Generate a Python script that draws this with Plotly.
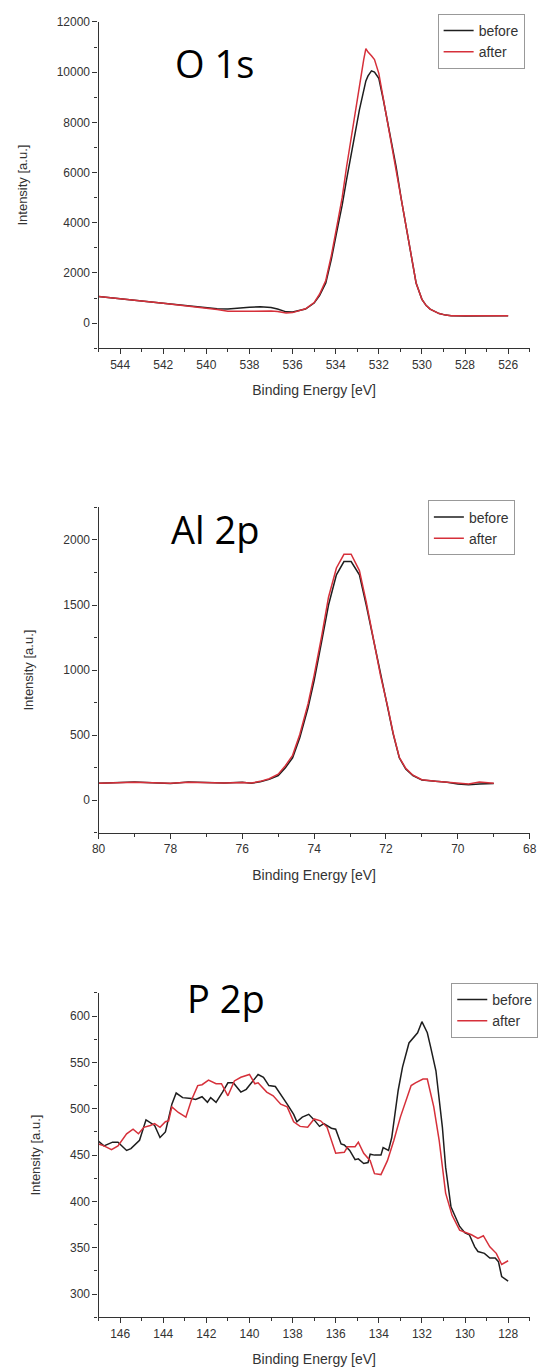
import plotly.graph_objects as go

# ---------------- data ----------------
o1s_be = [545.0, 544.0, 543.0, 542.0, 541.0, 540.0, 539.5, 539.0, 538.5, 538.0, 537.5, 537.0,
          536.7, 536.3, 536.0, 535.6, 535.4, 535.0, 534.75, 534.46, 534.2, 533.96, 533.7, 533.5,
          533.3, 533.1, 532.9, 532.7, 532.6, 532.5, 532.34, 532.2, 532.0, 531.79, 531.5, 531.2,
          530.95, 530.68, 530.45, 530.27, 530.0, 529.8, 529.62, 529.4, 529.2, 528.9, 528.64, 528.0,
          527.5, 527.0, 526.5, 526.0]
o1s_before = [1060, 980, 880, 790, 700, 600, 570, 560, 600, 635, 650, 620,
              560, 450, 440, 520, 560, 800, 1100, 1600, 2550, 3600, 4700, 5700,
              6700, 7560, 8500, 9350, 9650, 9850, 10050, 10000, 9750, 8900, 7600, 6250,
              4900, 3600, 2400, 1600, 950, 700, 560, 450, 380, 320, 290, 285,
              290, 295, 290, 290]
o1s_after = [1060, 980, 880, 790, 700, 600, 540, 470, 470, 480, 490, 480,
             460, 400, 420, 500, 570, 820, 1150, 1700, 2700, 3800, 5000, 6200,
             7300, 8300, 9500, 10500, 10940, 10800, 10650, 10500, 9950, 8950, 7650, 6250,
             4900, 3600, 2400, 1600, 950, 700, 560, 450, 380, 320, 290, 290,
             290, 295, 290, 290]

al2p_be = [80.0, 79.5, 79.0, 78.5, 78.0, 77.5, 77.0, 76.5, 76.0, 75.75, 75.5, 75.25, 75.0,
           74.8, 74.6, 74.4, 74.17, 74.0, 73.79, 73.6, 73.38, 73.17, 72.97, 72.74, 72.55,
           72.34, 72.15, 71.95, 71.8, 71.63, 71.45, 71.25, 71.0, 70.62, 70.3, 70.0, 69.7,
           69.4, 69.0]
al2p_before = [130, 135, 140, 135, 128, 140, 135, 132, 138, 130, 142, 160, 190,
               250, 326, 480, 710, 920, 1221, 1500, 1732, 1834, 1834, 1732, 1500,
               1221, 950, 710, 510, 326, 240, 190, 155, 145, 138, 125, 118,
               125, 128]
al2p_after = [130, 135, 138, 135, 130, 138, 135, 132, 136, 132, 145, 165, 200,
              265, 345, 505, 740, 960, 1260, 1560, 1785, 1890, 1890, 1765, 1525,
              1235, 955, 715, 515, 330, 245, 192, 158, 145, 138, 128, 125,
              140, 130]

p2p_be_before = [147.0, 146.75, 146.35, 146.1, 145.7, 145.5, 145.1, 144.8, 144.4, 144.15,
                 143.9, 143.6, 143.4, 143.1, 142.7, 142.5, 142.2, 141.95, 141.8, 141.55,
                 141.25, 141.0, 140.75, 140.4, 140.15, 139.9, 139.6, 139.35, 139.1, 138.8,
                 138.55, 138.25, 137.95, 137.8, 137.55, 137.25, 137.0, 136.75, 136.55, 136.2,
                 136.0, 135.75, 135.6, 135.35, 135.1, 134.95, 134.7, 134.5, 134.4, 134.2,
                 133.9, 133.8, 133.55, 133.4, 133.1, 132.9, 132.6, 132.35, 132.2, 132.0,
                 131.75, 131.6, 131.35, 131.05, 130.9, 130.65, 130.25, 130.0, 129.8, 129.55,
                 129.4, 129.1, 128.85, 128.6, 128.45, 128.3, 128.0]
p2p_before = [465, 460, 464, 464, 455, 457, 466, 488, 482, 469,
              475, 505, 517, 512, 511, 510, 513, 507, 512, 507,
              518, 528, 528, 518, 521, 528, 537, 534, 525, 524,
              516, 505, 494, 486, 491, 494, 488, 481, 484, 479,
              478, 462, 461, 455, 445, 446, 441, 442, 451, 450,
              450, 458, 455, 469, 520, 545, 571, 578, 582, 594,
              582, 567, 541, 480, 437, 394, 373, 366, 364, 351,
              346, 344, 339, 339, 335, 319, 314]
p2p_be_after = [147.0, 146.75, 146.4, 146.1, 145.7, 145.4, 145.15, 144.9, 144.6, 144.4,
                144.15, 143.9, 143.75, 143.6, 143.3, 142.95, 142.7, 142.4, 142.2, 141.9,
                141.55, 141.3, 141.0, 140.7, 140.4, 140.0, 139.75, 139.6, 139.2, 138.9,
                138.55, 138.25, 137.95, 137.65, 137.3, 137.0, 136.7, 136.4, 136.0, 135.6,
                135.45, 135.1, 134.95, 134.7, 134.4, 134.2, 133.9, 133.6, 133.3, 133.0,
                132.5, 132.3, 131.95, 131.75, 131.45, 131.2, 130.9, 130.6, 130.25, 129.95,
                129.7, 129.4, 129.15, 128.85, 128.55, 128.3, 128.0]
p2p_after = [462, 460, 456, 460, 473, 478, 473, 480, 482, 484,
             480, 486, 487, 502, 496, 491, 509, 525, 526, 531,
             527, 527, 514, 530, 534, 537, 527, 528, 518, 514,
             505, 502, 486, 481, 480, 489, 487, 480, 452, 453,
             459, 459, 464, 452, 444, 430, 429, 444, 466, 491,
             525, 528, 532, 532, 502, 466, 409, 385, 369, 366,
             364, 360, 363, 351, 344, 332, 336]

panel_titles = ["O 1s", "Al 2p", "P 2p"]
series_names = ["before", "after"]
x_title = "Binding Energy [eV]"
y_title = "Intensity [a.u.]"

# ---------------- styling ----------------
W, H = 544, 1371
BLACK = "#1e1e1e"
RED = "#d6303a"
AX = "#333333"
FONT = "Liberation Sans, Arial, sans-serif"

x_dom = [94 / W, 536.5 / W]
panels = [
    dict(top=15, bot=343, xr=[545, 525], yr=[-1000, 12000], ydt=2000, ymin=1000,
         data=(o1s_be, o1s_before, o1s_be, o1s_after), title_xy=(213, 56), leg=(442, 7)),
    dict(top=503, bot=830, xr=[80, 68], yr=[-250, 2250], ydt=500, ymin=250,
         data=(al2p_be, al2p_before, al2p_be, al2p_after), title_xy=(213, 525), leg=(432, 496)),
    dict(top=991, bot=1317, xr=[147, 127], yr=[275, 625], ydt=50, ymin=25,
         data=(p2p_be_before, p2p_before, p2p_be_after, p2p_after), title_xy=(225, 996), leg=(456, 981)),
]

fig = go.Figure()
layout = dict(width=W, height=H, margin=dict(l=0, r=0, t=0, b=0),
              paper_bgcolor="white", plot_bgcolor="white", showlegend=True,
              font=dict(family=FONT, color=AX))
annotations = []

for i, p in enumerate(panels):
    n = "" if i == 0 else str(i + 1)
    leg_name = "legend" + n
    xb, yb, xa, ya = p["data"]
    fig.add_trace(go.Scatter(x=xb, y=yb, mode="lines", name=series_names[0],
                             line=dict(color=BLACK, width=1.5), xaxis="x" + n, yaxis="y" + n,
                             legend=leg_name))
    fig.add_trace(go.Scatter(x=xa, y=ya, mode="lines", name=series_names[1],
                             line=dict(color=RED, width=1.5), xaxis="x" + n, yaxis="y" + n,
                             legend=leg_name))
    ydom = [1 - p["bot"] / H, 1 - p["top"] / H]
    common = dict(showline=True, linecolor=AX, linewidth=1.3, mirror=False,
                  ticks="outside", ticklen=5, tickwidth=1.2, tickcolor=AX,
                  showgrid=False, zeroline=False, tickformat="d",
                  tickfont=dict(family=FONT, size=12, color=AX))
    layout["xaxis" + n] = dict(domain=x_dom, range=p["xr"], anchor="y" + n,
                               tick0=0, dtick=2,
                               minor=dict(dtick=1, ticks="outside", ticklen=3, tickcolor=AX, tickwidth=1),
                               title=dict(text=x_title, font=dict(family=FONT, size=14, color=AX), standoff=14),
                               **common)
    layout["yaxis" + n] = dict(domain=ydom, range=p["yr"], anchor="x" + n,
                               tick0=0, dtick=p["ydt"],
                               minor=dict(dtick=p["ymin"], ticks="outside", ticklen=3, tickcolor=AX, tickwidth=1),
                               title=dict(text=y_title, font=dict(family=FONT, size=13, color=AX), standoff=26),
                               **common)
    layout[leg_name] = dict(x=p["leg"][0] / W, y=1 - p["leg"][1] / H, xanchor="left", yanchor="top",
                            bordercolor="#999999", borderwidth=1, bgcolor="white",
                            font=dict(family=FONT, size=14, color=AX),
                            tracegroupgap=0, itemwidth=30)
    annotations.append(dict(text=panel_titles[i], xref="paper", yref="paper",
                            x=p["title_xy"][0] / W, y=1 - p["title_xy"][1] / H,
                            xanchor="center", yanchor="middle", showarrow=False,
                            font=dict(family="Open Sans, Noto Sans, sans-serif", size=38, color="black")))

layout["annotations"] = annotations
fig.update_layout(**layout)
fig.write_html("out.html")
